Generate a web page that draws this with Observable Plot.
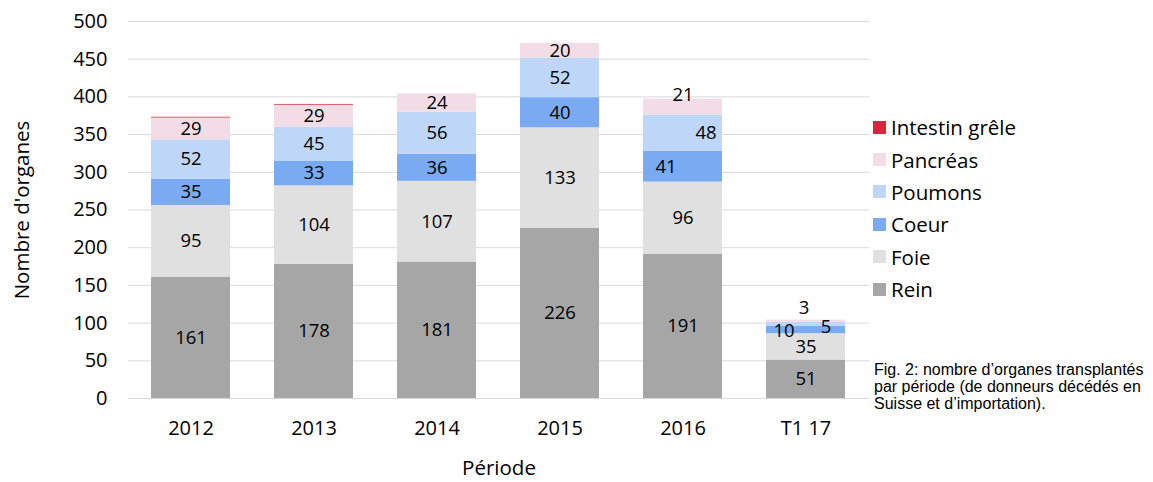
<!DOCTYPE html>
<html>
<head>
<meta charset="utf-8">
<script src="https://cdn.jsdelivr.net/npm/d3@7"></script>
<script src="https://cdn.jsdelivr.net/npm/@observablehq/plot@0.6"></script>
<style>
  html, body { margin: 0; padding: 0; background: #fff; }
  #wrap { position: relative; width: 1153px; height: 482px; font-family: "Open Sans", "Noto Sans", sans-serif; }
  #legend { position: absolute; left: 873px; top: 111px; }
  .li { display: flex; align-items: center; height: 32.4px; font-size: 20.5px; color: #000; }
  .sw { width: 13px; height: 13px; margin-right: 5px; flex: none; }
  #caption { position: absolute; left: 874px; top: 362px; font-family: "Liberation Sans", Arial, sans-serif; font-size: 16px; line-height: 16.8px; color: #000; white-space: nowrap; }
</style>
</head>
<body>
<div id="wrap">
  <div id="chart"></div>
  <div id="legend"></div>
  <div id="caption">Fig. 2: nombre d’organes transplantés<br>par période (de donneurs décédés en<br>Suisse et d’importation).</div>
</div>
<script>
const periods = ["2012", "2013", "2014", "2015", "2016", "T1 17"];
const organs = ["Rein", "Foie", "Coeur", "Poumons", "Pancréas", "Intestin grêle"];
const rein     = [161, 178, 181, 226, 191, 51];
const foie     = [95, 104, 107, 133, 96, 35];
const coeur    = [35, 33, 36, 40, 41, 10];
const poumons  = [52, 45, 56, 52, 48, 5];
const pancreas = [29, 29, 24, 20, 21, 3];
const intestin = [1, 1, 0, 0, 0, 0];
const yTicks = [0, 50, 100, 150, 200, 250, 300, 350, 400, 450, 500];
const colors = ["#a6a6a6", "#e0e0e0", "#7aabf2", "#bed7f9", "#f2dde7", "#d6283b"];

const series = [rein, foie, coeur, poumons, pancreas, intestin];
const rows = [];
periods.forEach((p, i) => {
  let acc = 0;
  organs.forEach((o, k) => {
    const v = series[k][i];
    rows.push({period: p, organ: o, value: v, y0: acc, y1: acc + v});
    acc += v;
  });
});
const mid = d => (d.y0 + d.y1) / 2;
const special = {
  "2016|Pancréas": {dx: 0, dy: -12},
  "2016|Poumons": {dx: 23, dy: 0},
  "2016|Coeur": {dx: -17, dy: 0},
  "T1 17|Pancréas": {dx: -2, dy: -13},
  "T1 17|Poumons": {dx: 20, dy: 3},
  "T1 17|Coeur": {dx: -22, dy: 1}
};
const labelRows = rows.filter(d => d.organ !== "Intestin grêle" && d.value > 0);
const normal = labelRows.filter(d => !special[d.period + "|" + d.organ]);
const specialMarks = Object.entries(special).map(([key, off]) =>
  Plot.text(labelRows.filter(d => d.period + "|" + d.organ === key), {
    x: "period", y: mid, text: d => String(d.value), dx: off.dx, dy: off.dy,
    fontSize: 18.5, fill: "#000"
  })
);

const chart = Plot.plot({
  width: 1153,
  height: 482,
  marginLeft: 128,
  marginRight: 284,
  marginTop: 21,
  marginBottom: 84,
  style: {fontFamily: "'Open Sans', 'Noto Sans', sans-serif", fontSize: "20px", color: "#000", background: "transparent"},
  x: {domain: periods, paddingInner: 0.355, paddingOuter: 0.18, label: null, tickSize: 0, tickPadding: 22},
  y: {domain: [0, 500], ticks: yTicks, label: null, tickSize: 0, tickPadding: 21},
  color: {domain: organs, range: colors},
  marks: [
    Plot.ruleY(yTicks, {stroke: "#d9d9d9", strokeWidth: 1}),
    Plot.barY(rows, {x: "period", y1: "y0", y2: "y1", fill: "organ"}),
    Plot.text(normal, {x: "period", y: mid, text: d => String(d.value), fontSize: 18.5, fill: "#000"}),
    ...specialMarks,
    Plot.text(["Période"], {frameAnchor: "bottom", dy: 76, fontSize: 20.5, fill: "#000"}),
    Plot.text(["Nombre d'organes"], {frameAnchor: "left", textAnchor: "middle", dx: -106, rotate: -90, fontSize: 20.5, fill: "#000"})
  ]
});
document.getElementById("chart").appendChild(chart);

const legend = document.getElementById("legend");
[...organs].reverse().forEach(o => {
  const row = document.createElement("div");
  row.className = "li";
  const sw = document.createElement("span");
  sw.className = "sw";
  sw.style.background = colors[organs.indexOf(o)];
  const t = document.createElement("span");
  t.textContent = o;
  row.appendChild(sw);
  row.appendChild(t);
  legend.appendChild(row);
});
</script>
</body>
</html>
